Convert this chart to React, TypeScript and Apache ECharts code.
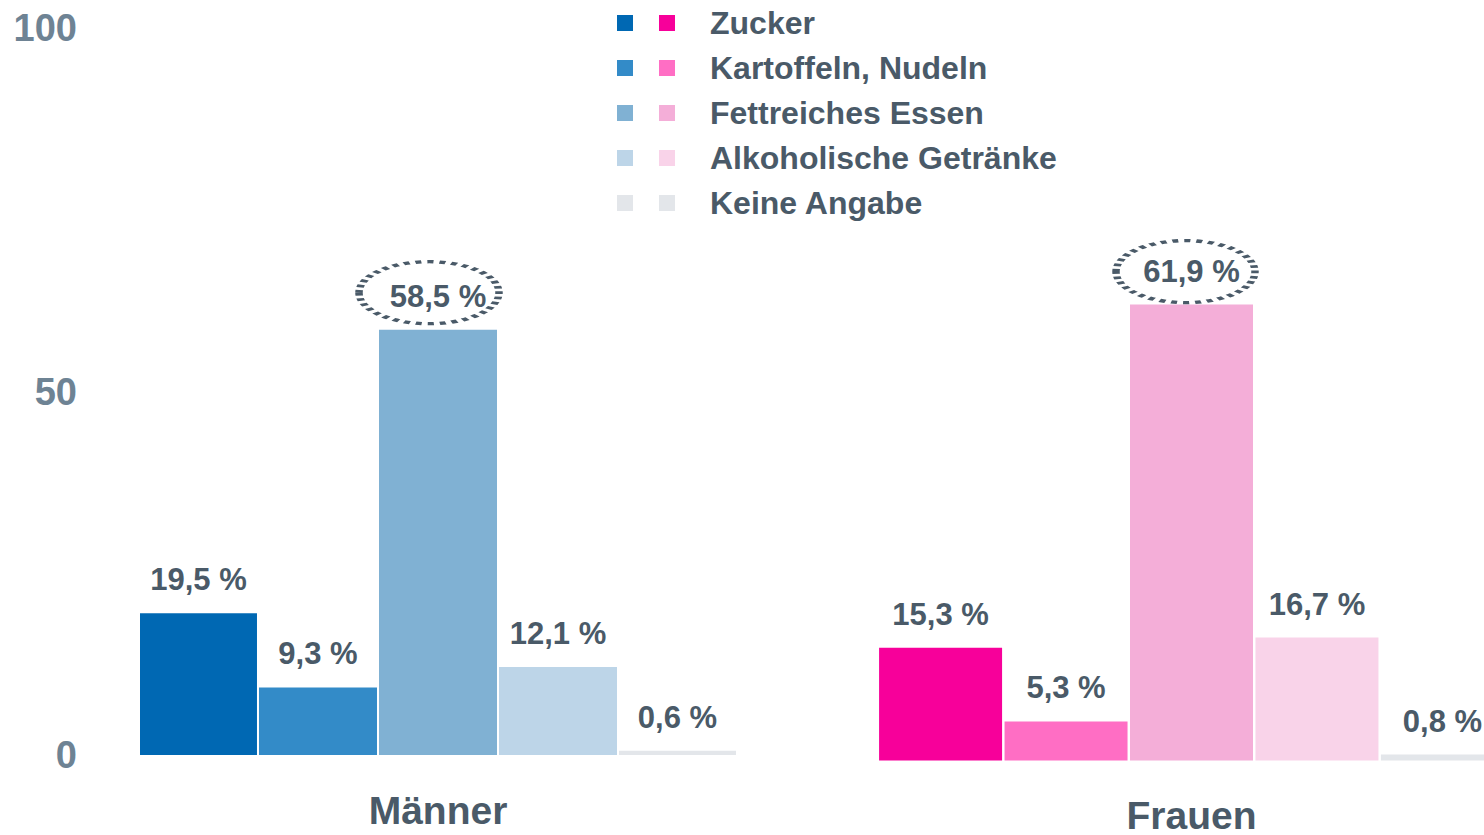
import React, { useEffect, useRef } from "react";
import * as echarts from "echarts";

const groups = ["Männer", "Frauen"];
const categories = ["Zucker", "Kartoffeln, Nudeln", "Fettreiches Essen", "Alkoholische Getränke", "Keine Angabe"];
const maennerValues = [19.5, 9.3, 58.5, 12.1, 0.6];
const frauenValues = [15.3, 5.3, 61.9, 16.7, 0.8];
const maennerColors = ["#0068b3", "#338bc8", "#80b1d3", "#bdd5e8", "#e3e6ea"];
const frauenColors = ["#f7009a", "#ff6ec4", "#f4aed8", "#f9d3e9", "#e3e6ea"];
const yTicks = [0, 50, 100];

const FONT = "'Liberation Sans', Arial, Helvetica, sans-serif";
const TEXT = "#4a5a68";
const AXIS_TEXT = "#6e8394";

const ELLIPSE =
  "path://M0,50 C0,22.4 22.4,0 50,0 C77.6,0 100,22.4 100,50 C100,77.6 77.6,100 50,100 C22.4,100 0,77.6 0,50 Z";

function fmt(v: number) {
  return v.toFixed(1).replace(".", ",") + " %";
}

export default function App() {
  const ref = useRef<HTMLDivElement>(null);
  useEffect(() => {
    const chart = echarts.init(ref.current!, null, { renderer: "svg" });
    const maxM = maennerValues.indexOf(Math.max(...maennerValues));
    const maxF = frauenValues.indexOf(Math.max(...frauenValues));

    const makeSeries = (
      values: number[],
      colors: string[],
      axisIndex: number,
      prefix: string,
      maxIdx: number,
      group: string,
      barWidth: number,
      barGap: string,
      offset: number[],
      ellipseSize: number[]
    ) =>
      values.map((v, i) => ({
        type: "bar",
        name: prefix + categories[i],
        xAxisIndex: axisIndex,
        yAxisIndex: axisIndex,
        data: [v],
        barWidth,
        barGap,
        itemStyle: { color: colors[i] },
        label: {
          show: true,
          position: "top",
          distance: 18,
          formatter: (p: any) => fmt(p.value),
          fontFamily: FONT,
          fontSize: 31,
          fontWeight: "bold",
          color: TEXT,
        },
        markPoint:
          i === maxIdx
            ? {
                symbol: ELLIPSE,
                symbolSize: ellipseSize,
                symbolOffset: offset,
                label: { show: false },
                itemStyle: {
                  color: "transparent",
                  borderColor: TEXT,
                  borderWidth: 5,
                  borderType: [4, 4],
                },
                data: [{ coord: [group, v] }],
              }
            : undefined,
      }));

    chart.setOption({
      animation: false,
      textStyle: { fontFamily: FONT },
      legend: [
        {
          orient: "vertical",
          left: 617,
          top: 15,
          padding: 0,
          itemWidth: 16,
          itemHeight: 16,
          itemGap: 29,
          icon: "rect",
          selectedMode: false,
          formatter: () => "",
          data: categories.map((c) => "M: " + c),
        },
        {
          orient: "vertical",
          left: 659,
          top: 7,
          padding: 0,
          itemWidth: 16,
          itemHeight: 16,
          itemGap: 13,
          icon: "rect",
          selectedMode: false,
          formatter: (n: string) => n.replace("F: ", ""),
          textStyle: {
            fontFamily: FONT,
            fontSize: 32,
            lineHeight: 30,
            fontWeight: "bold",
            color: TEXT,
            padding: [0, 0, 0, 30],
          },
          data: categories.map((c) => "F: " + c),
        },
      ],
      grid: [
        { left: 140, top: 28, width: 596, height: 727 },
        { left: 879, top: 24, width: 625, height: 737 },
      ],
      xAxis: [0, 1].map((g) => ({
        type: "category",
        gridIndex: g,
        data: [groups[g]],
        axisLine: { show: false },
        axisTick: { show: false },
        axisLabel: {
          margin: 39,
          fontFamily: FONT,
          fontSize: 39,
          lineHeight: 32,
          fontWeight: "bold",
          color: TEXT,
        },
      })),
      yAxis: [0, 1].map((g) => ({
        type: "value",
        gridIndex: g,
        min: yTicks[0],
        max: yTicks[yTicks.length - 1],
        interval: yTicks[1] - yTicks[0],
        splitLine: { show: false },
        axisLine: { show: false },
        axisTick: { show: false },
        axisLabel: {
          show: g === 0,
          margin: 63,
          fontFamily: FONT,
          fontSize: 38,
          fontWeight: "bold",
          color: AXIS_TEXT,
        },
      })),
      series: [
        ...makeSeries(maennerValues, maennerColors, 0, "M: ", maxM, groups[0], 118, "1.7%", [-9, -37], [140, 62]),
        ...makeSeries(frauenValues, frauenColors, 1, "F: ", maxF, groups[1], 123, "2%", [-6, -33], [139, 62]),
      ],
    });
    return () => chart.dispose();
  }, []);
  return (
    <div
      ref={ref}
      style={{ position: "fixed", left: 0, top: 0, width: 1507, height: 835, background: "#fff" }}
    />
  );
}
